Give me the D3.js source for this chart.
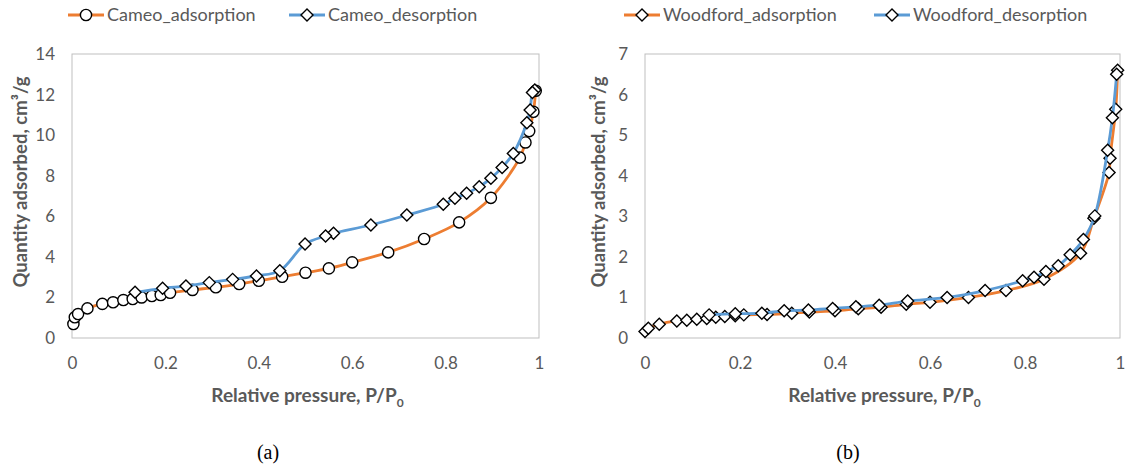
<!DOCTYPE html>
<html>
<head>
<meta charset="utf-8">
<script src="https://cdn.jsdelivr.net/npm/d3@7"></script>
<style>
  body { margin: 0; background: #fff; }
</style>
</head>
<body>
<svg id="chart" width="1130" height="467"></svg>
<script>
// Cameo shale isotherm
var cameoAdsX = [0.003, 0.006, 0.013, 0.033, 0.065, 0.088, 0.11, 0.13, 0.149, 0.171, 0.19, 0.21, 0.258, 0.308, 0.358, 0.40, 0.45, 0.50, 0.55, 0.60, 0.677, 0.754, 0.829, 0.897, 0.959, 0.971, 0.979, 0.988, 0.993];
var cameoAdsY = [0.69, 1.02, 1.18, 1.46, 1.68, 1.76, 1.87, 1.92, 2.0, 2.07, 2.12, 2.23, 2.37, 2.5, 2.66, 2.82, 3.02, 3.22, 3.43, 3.73, 4.22, 4.88, 5.7, 6.91, 8.89, 9.64, 10.2, 11.15, 12.19];
var cameoDesX = [0.991, 0.986, 0.981, 0.974, 0.945, 0.921, 0.897, 0.872, 0.845, 0.82, 0.795, 0.717, 0.64, 0.56, 0.543, 0.499, 0.445, 0.395, 0.344, 0.294, 0.244, 0.194, 0.135];
var cameoDesY = [12.22, 12.1, 11.24, 10.61, 9.1, 8.41, 7.87, 7.46, 7.13, 6.89, 6.59, 6.06, 5.57, 5.16, 5.03, 4.63, 3.32, 3.06, 2.89, 2.73, 2.56, 2.45, 2.25];

// Woodford shale isotherm
var woodAdsX = [0.0, 0.007, 0.03, 0.067, 0.088, 0.109, 0.13, 0.149, 0.168, 0.19, 0.208, 0.257, 0.309, 0.346, 0.4, 0.449, 0.497, 0.55, 0.6, 0.681, 0.76, 0.84, 0.917, 0.945, 0.977, 0.979, 0.991, 0.995];
var woodAdsY = [0.16, 0.24, 0.34, 0.42, 0.44, 0.46, 0.48, 0.51, 0.53, 0.55, 0.57, 0.58, 0.61, 0.64, 0.67, 0.72, 0.76, 0.83, 0.88, 1.0, 1.17, 1.45, 2.09, 2.95, 4.08, 4.43, 5.64, 6.6];
var woodDesX = [0.993, 0.984, 0.974, 0.947, 0.923, 0.895, 0.87, 0.844, 0.819, 0.795, 0.716, 0.636, 0.553, 0.493, 0.444, 0.395, 0.344, 0.293, 0.246, 0.19, 0.135];
var woodDesY = [6.5, 5.43, 4.63, 3.01, 2.43, 2.05, 1.78, 1.64, 1.5, 1.41, 1.17, 1.0, 0.91, 0.81, 0.77, 0.73, 0.69, 0.67, 0.61, 0.6, 0.57];

var xTicks = [0, 0.2, 0.4, 0.6, 0.8, 1];
var cameoYTicks = [0, 2, 4, 6, 8, 10, 12, 14];
var woodYTicks = [0, 1, 2, 3, 4, 5, 6, 7];

var ORANGE = "#ED7D31", BLUE = "#5B9BD5", GREY = "#595959";
var FONT = "Lato, 'Open Sans', sans-serif";
var svg = d3.select("#chart");

function zip(xs, ys) {
    return xs.map(function (x, i) { return { x: x, y: ys[i] }; });
}

function marker(g, shape, cx, cy) {
    if (shape === "circle") {
        g.append("circle").attr("cx", cx).attr("cy", cy).attr("r", 5.6)
            .attr("fill", "#fff").attr("stroke", "#000").attr("stroke-width", 1.4);
    } else {
        var s = 6;
        g.append("path")
            .attr("d", "M" + cx + "," + (cy - s) + "L" + (cx + s) + "," + cy + "L" + cx + "," + (cy + s) + "L" + (cx - s) + "," + cy + "Z")
            .attr("fill", "#fff").attr("stroke", "#000").attr("stroke-width", 1.4);
    }
}

function drawPanel(opt) {
    var x = d3.scaleLinear().domain([0, 1]).range([opt.left, opt.right]);
    var y = d3.scaleLinear().domain([0, opt.yMax]).range([338, 54]);
    var g = svg.append("g");

    // plot border
    g.append("rect").attr("x", opt.left).attr("y", 54)
        .attr("width", opt.right - opt.left).attr("height", 284)
        .attr("fill", "none").attr("stroke", "#BFBFBF").attr("stroke-width", 1);

    // tick labels
    var xAxis = d3.axisBottom(x).tickValues(xTicks).tickSize(0).tickPadding(19)
        .tickFormat(function (d) { return d === 0 || d === 1 ? d : d3.format(".1f")(d); });
    var gx = g.append("g").attr("transform", "translate(0,338)").call(xAxis);
    var yAxis = d3.axisLeft(y).tickValues(opt.yTicks).tickSize(0).tickPadding(17)
        .tickFormat(d3.format("d"));
    var gy = g.append("g").attr("transform", "translate(" + opt.left + ",0)").call(yAxis);
    [gx, gy].forEach(function (a) {
        a.select(".domain").remove();
        a.selectAll("text").attr("font-size", 17).attr("font-family", FONT).attr("fill", GREY);
    });

    // axis titles
    var xt = g.append("text").attr("x", (opt.left + opt.right) / 2 + 2).attr("y", 402)
        .attr("text-anchor", "middle").attr("font-size", 19).attr("font-weight", "bold")
        .attr("font-family", FONT).attr("fill", GREY);
    xt.append("tspan").text("Relative pressure, P/P");
    xt.append("tspan").attr("font-size", 12).attr("dy", 5).text("0");

    g.append("text")
        .attr("transform", "translate(" + opt.titleX + ",182) rotate(-90)")
        .attr("text-anchor", "middle").attr("font-size", 18.5).attr("font-weight", "bold")
        .attr("font-family", FONT).attr("fill", GREY)
        .text("Quantity adsorbed, cm\u00B3/g");

    // caption
    g.append("text").attr("x", opt.capX).attr("y", 459)
        .attr("text-anchor", "middle").attr("font-size", 20)
        .attr("font-family", "'Liberation Serif', 'Times New Roman', serif").attr("fill", "#000")
        .text(opt.caption);

    var line = d3.line().x(function (d) { return x(d.x); }).y(function (d) { return y(d.y); })
        .curve(d3.curveCatmullRom.alpha(0.5));

    opt.series.forEach(function (s) {
        var data = zip(s.xs, s.ys);
        g.append("path").datum(data).attr("d", line)
            .attr("fill", "none").attr("stroke", s.color).attr("stroke-width", 2.8);
        var mg = g.append("g");
        data.forEach(function (d) { marker(mg, s.shape, x(d.x), y(d.y)); });

        // legend entry
        var lg = svg.append("g");
        lg.append("line").attr("x1", s.legX).attr("x2", s.legX + 36).attr("y1", 15).attr("y2", 15)
            .attr("stroke", s.color).attr("stroke-width", 2.8);
        marker(lg, s.shape, s.legX + 18, 15);
        lg.append("text").attr("x", s.legX + 39).attr("y", 15).attr("dy", "0.35em")
            .attr("font-size", 18).attr("font-family", FONT).attr("fill", GREY).text(s.name);
    });
}

drawPanel({
    left: 72, right: 539, yMax: 14, yTicks: cameoYTicks, titleX: 27, caption: "(a)", capX: 268,
    series: [
        { name: "Cameo_adsorption", xs: cameoAdsX, ys: cameoAdsY, color: ORANGE, shape: "circle", legX: 68 },
        { name: "Cameo_desorption", xs: cameoDesX, ys: cameoDesY, color: BLUE, shape: "diamond", legX: 289 }
    ]
});

drawPanel({
    left: 645, right: 1120, yMax: 7, yTicks: woodYTicks, titleX: 605, caption: "(b)", capX: 848,
    series: [
        { name: "Woodford_adsorption", xs: woodAdsX, ys: woodAdsY, color: ORANGE, shape: "diamond", legX: 624 },
        { name: "Woodford_desorption", xs: woodDesX, ys: woodDesY, color: BLUE, shape: "diamond", legX: 874 }
    ]
});
</script>
</body>
</html>
